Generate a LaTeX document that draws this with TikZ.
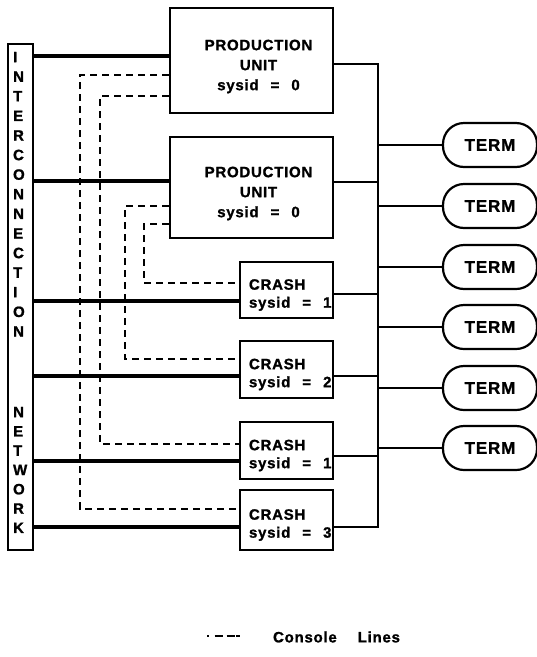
\documentclass[tikz,border=0pt]{standalone}
\usepackage{fontspec}
\newfontfamily\diafont{Liberation Sans}[LetterSpace=5,BoldFont={Liberation Sans Bold},BoldFeatures={FakeBold=1.2}]
\usepackage{tikz}
\newcommand{\sysid}[1]{sysid\hspace{.8em}=\hspace{.8em}#1}

\begin{document}
\begin{tikzpicture}[x=1pt,y=-1pt,line width=2.2pt,font=\diafont\bfseries\fontsize{15}{20}\selectfont,
  box/.style={draw,line width=2.2pt,inner sep=0pt},
  crash/.style={box,minimum width=93pt},
  term/.style={draw,line width=2.2pt,rounded corners=21pt,minimum width=94pt,minimum height=44pt,font=\diafont\bfseries\fontsize{17}{20}\selectfont},
  link/.style={line width=3.5pt},
  console/.style={line width=1.6pt,dash pattern=on 7pt off 5pt}]
\useasboundingbox (0,0) rectangle (537,657);
% network bar
\node[box,minimum width=25pt,minimum height=506pt] (net) at (20.5,297) {};
\foreach \ch [count=\i from 0] in {I,N,T,E,R,C,O,N,N,E,C,T,I,O,N}
  \node[anchor=west,inner sep=0pt] (a\i) at (12,57+19.6*\i) {\ch};
\foreach \ch [count=\i from 0] in {N,E,T,W,O,R,K}
  \node[anchor=west,inner sep=0pt] (b\i) at (12,412+19.3*\i) {\ch};
% units
\node[box,minimum width=163pt,minimum height=105pt] (pu1) at (251.5,60.5) {};
\node[box,minimum width=163pt,minimum height=101pt] (pu2) at (251.5,187.5) {};
\node[align=center,inner sep=0pt] (pu1txt) at ([xshift=7pt,yshift=-6pt]pu1.center) {PRODUCTION\\UNIT\\\sysid{0}};
\node[align=center,inner sep=0pt] (pu2txt) at ([xshift=7pt,yshift=-6pt]pu2.center) {PRODUCTION\\UNIT\\\sysid{0}};
\node[crash,minimum height=56pt] (cr1) at (286.5,290) {};
\node[crash,minimum height=57pt] (cr2) at (286.5,369.5) {};
\node[crash,minimum height=57pt] (cr3) at (286.5,450.5) {};
\node[crash,minimum height=60pt] (cr4) at (286.5,520) {};
\foreach \n/\s in {cr1/1,cr2/2,cr3/1,cr4/3}
  \node[anchor=west,align=left,inner sep=0pt,font=\diafont\bfseries\fontsize{15}{18}\selectfont] (\n txt) at ([xshift=9pt,yshift=-5pt]\n.west) {CRASH\\\sysid{\s}};
% terminals
\foreach \i/\y in {1/145,2/206,3/267,4/327,5/388,6/448}
  \node[term] (t\i) at (490,\y) {TERM};
% network links
\draw[link] (net.east |- 0,56) -- (pu1.west |- 0,56);
\draw[link] (net.east |- 0,181) -- (pu2.west |- 0,181);
\draw[link] (net.east |- 0,301) -- (cr1.west |- 0,301);
\draw[link] (net.east |- 0,376) -- (cr2.west |- 0,376);
\draw[link] (net.east |- 0,461) -- (cr3.west |- 0,461);
\draw[link] (net.east |- 0,527) -- (cr4.west |- 0,527);
% terminal bus
\coordinate (bustop) at (378,64);
\coordinate (busbot) at (378,527);
\draw (pu1.east |- bustop) -- (bustop) -- (busbot) -- (cr4.east |- busbot);
\draw (pu2.east |- 0,182) -- (bustop |- 0,182);
\draw (cr1.east |- 0,294) -- (bustop |- 0,294);
\draw (cr2.east |- 0,376) -- (bustop |- 0,376);
\draw (cr3.east |- 0,456) -- (bustop |- 0,456);
\foreach \i in {1,...,6}
  \draw[line width=1.8pt] (bustop |- t\i) -- (t\i.west);
% console lines
\draw[console] (pu1.west |- 0,75) -| (80,509) -- (cr4.west |- 0,509);
\draw[console] (pu1.west |- 0,96) -| (100,444) -- (cr3.west |- 0,444);
\draw[console] (pu2.west |- 0,206) -| (125,359) -- (cr2.west |- 0,359);
\draw[console] (pu2.west |- 0,224) -| (144,283) -- (cr1.west |- 0,283);
% legend
\coordinate (keyl) at (207,636);
\coordinate (keyr) at (240,636);
\draw[line width=1.6pt,dash pattern=on 1.5pt off 6pt on 8pt off 4pt on 8pt] (keyl) -- (keyr);
\node[anchor=west,inner sep=0pt] (key) at (272,637) {Console\hspace{1.4em}Lines};
\end{tikzpicture}
\end{document}
